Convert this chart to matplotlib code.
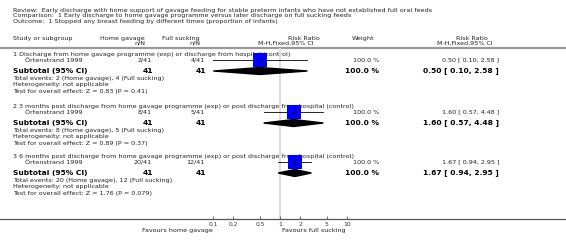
import matplotlib
matplotlib.use("Agg")
import matplotlib.pyplot as plt
from matplotlib.patches import Polygon

titulo = ["Review:  Early discharge with home support of gavage feeding for stable preterm infants who have not established full oral feeds",
          "Comparison:  1 Early discharge to home gavage programme versus later discharge on full sucking feeds",
          "Outcome:  1 Stopped any breast feeding by different times (proportion of infants)"]
grupos = ["1 Discharge from home gavage programme (exp) or discharge from hospital (control)",
          "2 3 months post discharge from home gavage programme (exp) or post discharge from hospital (control)",
          "3 6 months post discharge from home gavage programme (exp) or post discharge from hospital (control)"]
estudo = "Örtenstrand 1999"
eventos_casa = [2, 8, 20]
n_casa = [41, 41, 41]
eventos_sucção = [4, 5, 12]
n_sucção = [41, 41, 41]
peso = [100.0, 100.0, 100.0]
rr = [0.50, 1.60, 1.67]
rr_inf = [0.10, 0.57, 0.94]
rr_sup = [2.58, 4.48, 2.95]
z = ["0.83", "0.89", "1.76"]
p = ["0.41", "0.37", "0.079"]
ticks = [0.1, 0.2, 0.5, 1, 2, 5, 10]
tick_labels = ["0.1", "0.2", "0.5", "1", "2", "5", "10"]

W, H = 566, 249
fig = plt.figure(figsize=(W / 100, H / 100), dpi=100)
plt.rcParams['font.family'] = ['DejaVu Sans']

# eixo de fundo em pixels, para os textos
bg = fig.add_axes([0, 0, 1, 1])
bg.set_xlim(0, W)
bg.set_ylim(H, 0)
bg.axis("off")

cor = "#222222"
pq = 4.6   # fonte pequena
gd = 5.4   # fonte negrito

for i, t in enumerate(titulo):
    bg.text(13, 10.5 + 5.3 * i, t, fontsize=pq, color=cor, va="center")

# cabeçalho
bg.text(13, 38, "Study or subgroup", fontsize=pq, color=cor, va="center")
bg.text(145, 38, "Home gavage", fontsize=pq, color=cor, va="center", ha="right")
bg.text(145, 43, "n/N", fontsize=pq, color=cor, va="center", ha="right")
bg.text(200, 38, "Full sucking", fontsize=pq, color=cor, va="center", ha="right")
bg.text(200, 43, "n/N", fontsize=pq, color=cor, va="center", ha="right")
bg.text(320, 38, "Risk Ratio", fontsize=pq, color=cor, va="center", ha="right")
bg.text(314, 43, "M-H,Fixed,95% CI", fontsize=pq, color=cor, va="center", ha="right")
bg.text(352, 38, "Weight", fontsize=pq, color=cor, va="center")
bg.text(488, 38, "Risk Ratio", fontsize=pq, color=cor, va="center", ha="right")
bg.text(493, 43, "M-H,Fixed,95% CI", fontsize=pq, color=cor, va="center", ha="right")
bg.plot([0, W], [48, 48], color="#999999", lw=1.6)
bg.plot([0, W], [219, 219], color="#555555", lw=0.9)

bases = [54, 106, 156]
for i in range(3):
    b = bases[i]
    bg.text(13, b, grupos[i], fontsize=pq, color=cor, va="center")
    bg.text(25, b + 6, estudo, fontsize=pq, color=cor, va="center")
    bg.text(152, b + 6, "%d/%d" % (eventos_casa[i], n_casa[i]), fontsize=pq, color=cor, va="center", ha="right")
    bg.text(205, b + 6, "%d/%d" % (eventos_sucção[i], n_sucção[i]), fontsize=pq, color=cor, va="center", ha="right")
    bg.text(379, b + 6, "%.1f %%" % peso[i], fontsize=pq, color=cor, va="center", ha="right")
    bg.text(499, b + 6, "%.2f [ %.2f, %.2f ]" % (rr[i], rr_inf[i], rr_sup[i]), fontsize=pq, color=cor, va="center", ha="right")
    # subtotal
    bg.text(13, b + 17, "Subtotal (95% CI)", fontsize=gd, color="black", va="center", weight="bold")
    bg.text(153, b + 17, str(n_casa[i]), fontsize=gd, color="black", va="center", ha="right", weight="bold")
    bg.text(206, b + 17, str(n_sucção[i]), fontsize=gd, color="black", va="center", ha="right", weight="bold")
    bg.text(379, b + 17, "%.1f %%" % peso[i], fontsize=gd, color="black", va="center", ha="right", weight="bold")
    bg.text(499, b + 17, "%.2f [ %.2f, %.2f ]" % (rr[i], rr_inf[i], rr_sup[i]), fontsize=gd, color="black", va="center", ha="right", weight="bold")
    bg.text(13, b + 24, "Total events: %d (Home gavage), %d (Full sucking)" % (eventos_casa[i], eventos_sucção[i]), fontsize=pq, color=cor, va="center")
    bg.text(13, b + 30.5, "Heterogeneity: not applicable", fontsize=pq, color=cor, va="center")
    bg.text(13, b + 37, "Test for overall effect: Z = %s (P = %s)" % (z[i], p[i]), fontsize=pq, color=cor, va="center")

bg.text(213, 230, "Favours home gavage", fontsize=pq, color=cor, va="center", ha="right")
bg.text(282, 230, "Favours full sucking", fontsize=pq, color=cor, va="center", ha="left")

# eixo do forest plot (escala log), y em pixels
x0, x1 = 213.3, 346.7
ax = fig.add_axes([x0 / W, (H - 219) / H, (x1 - x0) / W, (219 - 48) / H])
ax.set_xscale("log")
ax.set_xlim(0.1, 10)
ax.set_ylim(219, 48)
ax.patch.set_visible(False)
for s in ax.spines.values():
    s.set_visible(False)
ax.set_yticks([])
ax.set_xticks(ticks)
ax.set_xticklabels(tick_labels)
ax.minorticks_off()
ax.tick_params(axis="x", direction="in", length=2.5, width=0.6, color="#555555",
               labelsize=4.3, labelcolor="#333333", pad=2)
ax.axvline(1, color="#dddddd", lw=1.5, zorder=0)

for i in range(3):
    b = bases[i]
    ax.plot([rr_inf[i], rr_sup[i]], [b + 6, b + 6], color="black", lw=0.6, zorder=2)
    ax.plot(rr[i], b + 6, marker="s", ms=10, mew=0, color="#0000ff", zorder=3)
    ax.plot(rr[i], b + 6, marker="+", ms=3, mew=0.5, color="black", zorder=4)
    d = Polygon([(rr_inf[i], b + 17), (rr[i], b + 13.5), (rr_sup[i], b + 17), (rr[i], b + 20.5)],
                closed=True, color="black", zorder=3)
    ax.add_patch(d)

fig.savefig("out.png", dpi=100)
